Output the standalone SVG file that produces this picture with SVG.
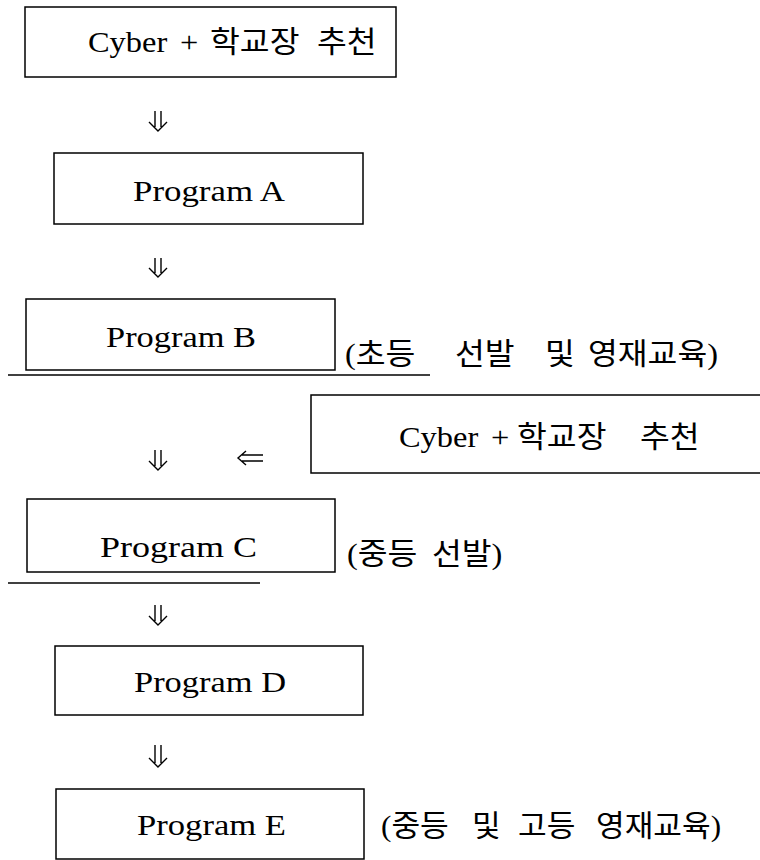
<svg xmlns="http://www.w3.org/2000/svg" width="760" height="860" viewBox="0 0 760 860">
  <style>
    .box { fill: #ffffff; stroke: #000000; stroke-width: 1.5; }
    .rule { stroke: #000000; stroke-width: 1.5; fill: none; }
    .lbl { font-family: "Liberation Serif", "Noto Sans CJK KR", serif; font-size: 30px; fill: #000000; }
    .note { font-family: "Liberation Serif", "Noto Sans CJK KR", serif; font-size: 30px; fill: #000000; }
    .arr { stroke: #000000; stroke-width: 1.4; fill: none; stroke-linejoin: miter; }
  </style>
  <rect width="760" height="860" fill="#ffffff"/>

  <!-- connectors: double-line arrows -->
  <g id="connectors">
    <path class="arr" d="M155 111 V127 M161 111 V127 M149 122 L158 131 L167 122"/>
    <path class="arr" d="M155 258 V273 M161 258 V273 M149 268 L158 277 L167 268"/>
    <path class="arr" d="M155 450 V466 M161 450 V466 M149 461 L158 470 L167 461"/>
    <path class="arr" d="M155 605 V621 M161 605 V621 M149 616 L158 625 L167 616"/>
    <path class="arr" d="M155 745 V763 M161 745 V763 M149 758 L158 767 L167 758"/>
    <path class="arr" d="M242 455 H263 M242 461 H263 M246 451 L238 458 L246 465"/>
  </g>

  <!-- divider rules -->
  <g id="rules">
    <line class="rule" x1="8" y1="375" x2="430" y2="375"/>
    <line class="rule" x1="8" y1="583" x2="260" y2="583"/>
  </g>

  <!-- wide-set labels: text is stretched horizontally -->
  <g id="node-recommend-top">
    <rect class="box" x="25" y="7" width="371" height="70"/>
    <text class="lbl" transform="translate(88 52) scale(1.08 1)"><tspan x="0">Cyber </tspan><tspan x="85.2">+ </tspan><tspan x="113">학교장 </tspan><tspan x="212">추천</tspan></text>
  </g>

  <g id="node-program-a">
    <rect class="box" x="54" y="153" width="309" height="71"/>
    <text class="lbl" x="133" y="201" textLength="152" lengthAdjust="spacingAndGlyphs">Program  A</text>
  </g>

  <g id="node-program-b">
    <rect class="box" x="26" y="299" width="309" height="71"/>
    <text class="lbl" x="106" y="347" textLength="150" lengthAdjust="spacingAndGlyphs">Program  B</text>
    <text class="note" transform="translate(345 364) scale(1.08 1)"><tspan x="0">(초등 </tspan><tspan x="101.9">선발 </tspan><tspan x="185.2">및 </tspan><tspan x="225">영재교육)</tspan></text>
  </g>

  <g id="node-recommend-mid">
    <rect class="box" x="311" y="395" width="460" height="78"/>
    <text class="lbl" transform="translate(399 447) scale(1.08 1)"><tspan x="0">Cyber </tspan><tspan x="85.2">+ </tspan><tspan x="109.3">학교장 </tspan><tspan x="223.1">추천</tspan></text>
  </g>

  <g id="node-program-c">
    <rect class="box" x="27" y="499" width="308" height="73"/>
    <text class="lbl" x="100" y="557" textLength="157" lengthAdjust="spacingAndGlyphs">Program  C</text>
    <text class="note" transform="translate(347 564) scale(1.08 1)"><tspan x="0">(중등 </tspan><tspan x="78.7">선발)</tspan></text>
  </g>

  <g id="node-program-d">
    <rect class="box" x="55" y="646" width="308" height="69"/>
    <text class="lbl" x="134" y="692" textLength="152" lengthAdjust="spacingAndGlyphs">Program  D</text>
  </g>

  <g id="node-program-e">
    <rect class="box" x="56" y="789" width="308" height="70"/>
    <text class="lbl" x="137" y="835" textLength="149" lengthAdjust="spacingAndGlyphs">Program  E</text>
    <text class="note" transform="translate(381 836) scale(1.04 1)"><tspan x="0">(중등 </tspan><tspan x="87.5">및 </tspan><tspan x="131.7">고등 </tspan><tspan x="206.7">영재교육)</tspan></text>
  </g>
</svg>
